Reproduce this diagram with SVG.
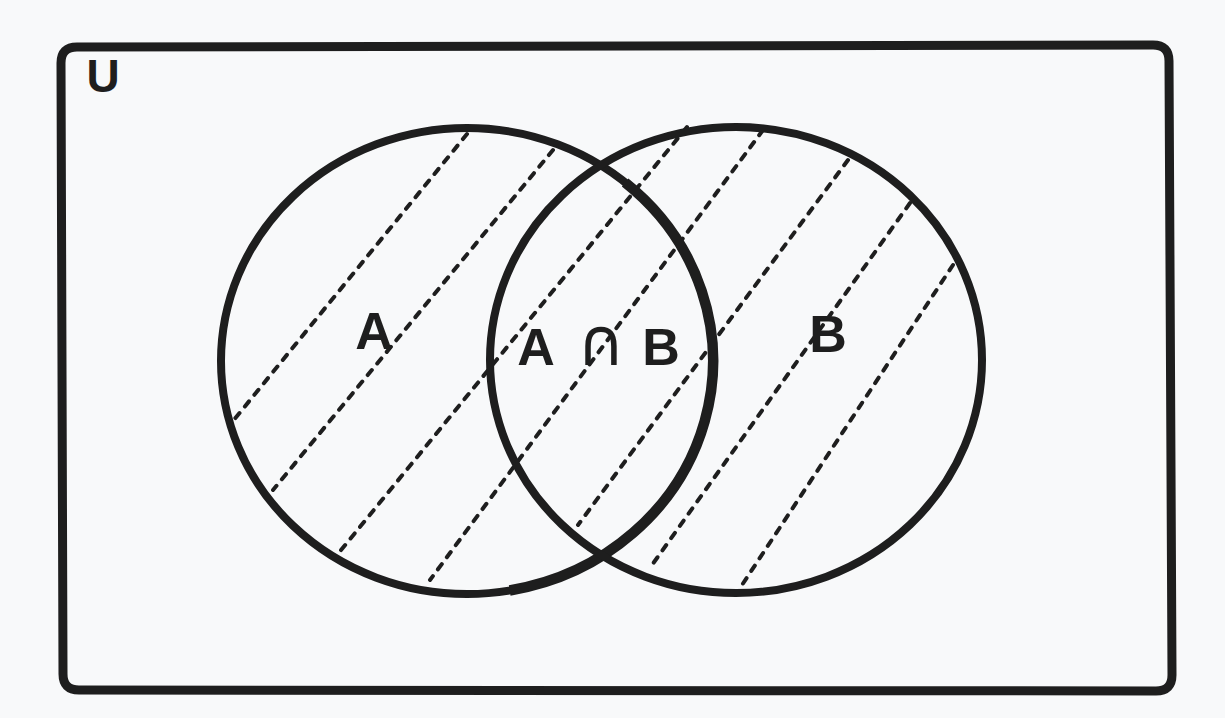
<svg xmlns="http://www.w3.org/2000/svg" width="1225" height="718" viewBox="0 0 1225 718">
<style>
.bg{fill:#f8f9fa}
.edge{fill:none;stroke:#1e1e1e;stroke-width:8;stroke-linejoin:round;stroke-linecap:round}
.frame{stroke-width:9}
.thick{fill:none;stroke:#1e1e1e;stroke-width:10.5;stroke-linecap:butt}
.hatch{fill:none;stroke:#1e1e1e;stroke-width:4;stroke-dasharray:6.5 8.5;stroke-linecap:round}
.lbl{font-family:"Liberation Sans",Arial,"DejaVu Sans",sans-serif;font-weight:bold;fill:#1e1e1e;text-anchor:middle}
.op{font-family:"DejaVu Sans","Liberation Sans",sans-serif;font-weight:normal;font-size:66px}
</style>
<rect class="bg" x="0" y="0" width="1225" height="718"/>
<g id="universe">
<path class="edge frame" d="M77 47 L1153 45 Q1169 45 1169 61 L1172 675 Q1172 691 1156 691 L79 690 Q63 690 63 674 L61 63 Q61 47 77 47 Z"/>
<text class="lbl" x="103" y="92" font-size="46">U</text>
</g>
<g id="connectors">
<line class="hatch" x1="467" y1="134" x2="233" y2="421"/>
<line class="hatch" x1="553" y1="150" x2="273" y2="490"/>
<line class="hatch" x1="687" y1="127" x2="337" y2="555"/>
<line class="hatch" x1="763" y1="130" x2="430" y2="580"/>
<line class="hatch" x1="848" y1="160" x2="578" y2="525"/>
<line class="hatch" x1="910" y1="203" x2="652" y2="565"/>
<line class="hatch" x1="953" y1="265" x2="742" y2="585"/>
</g>
<g id="setA">
<ellipse class="edge" cx="467" cy="361" rx="246" ry="233"/>
<path class="thick" d="M625.1 182.5 A246 233 0 0 1 509.7 590.5"/>
<text class="lbl" x="374" y="349" font-size="52">A</text>
</g>
<g id="setB">
<ellipse class="edge" cx="736" cy="360" rx="246" ry="233"/>
<text class="lbl" x="828" y="352" font-size="52">B</text>
</g>
<g id="intersection">
<text class="lbl" font-size="52" y="365"><tspan x="536">A</tspan><tspan class="op" x="601">∩</tspan><tspan x="661">B</tspan></text>
</g>
</svg>
